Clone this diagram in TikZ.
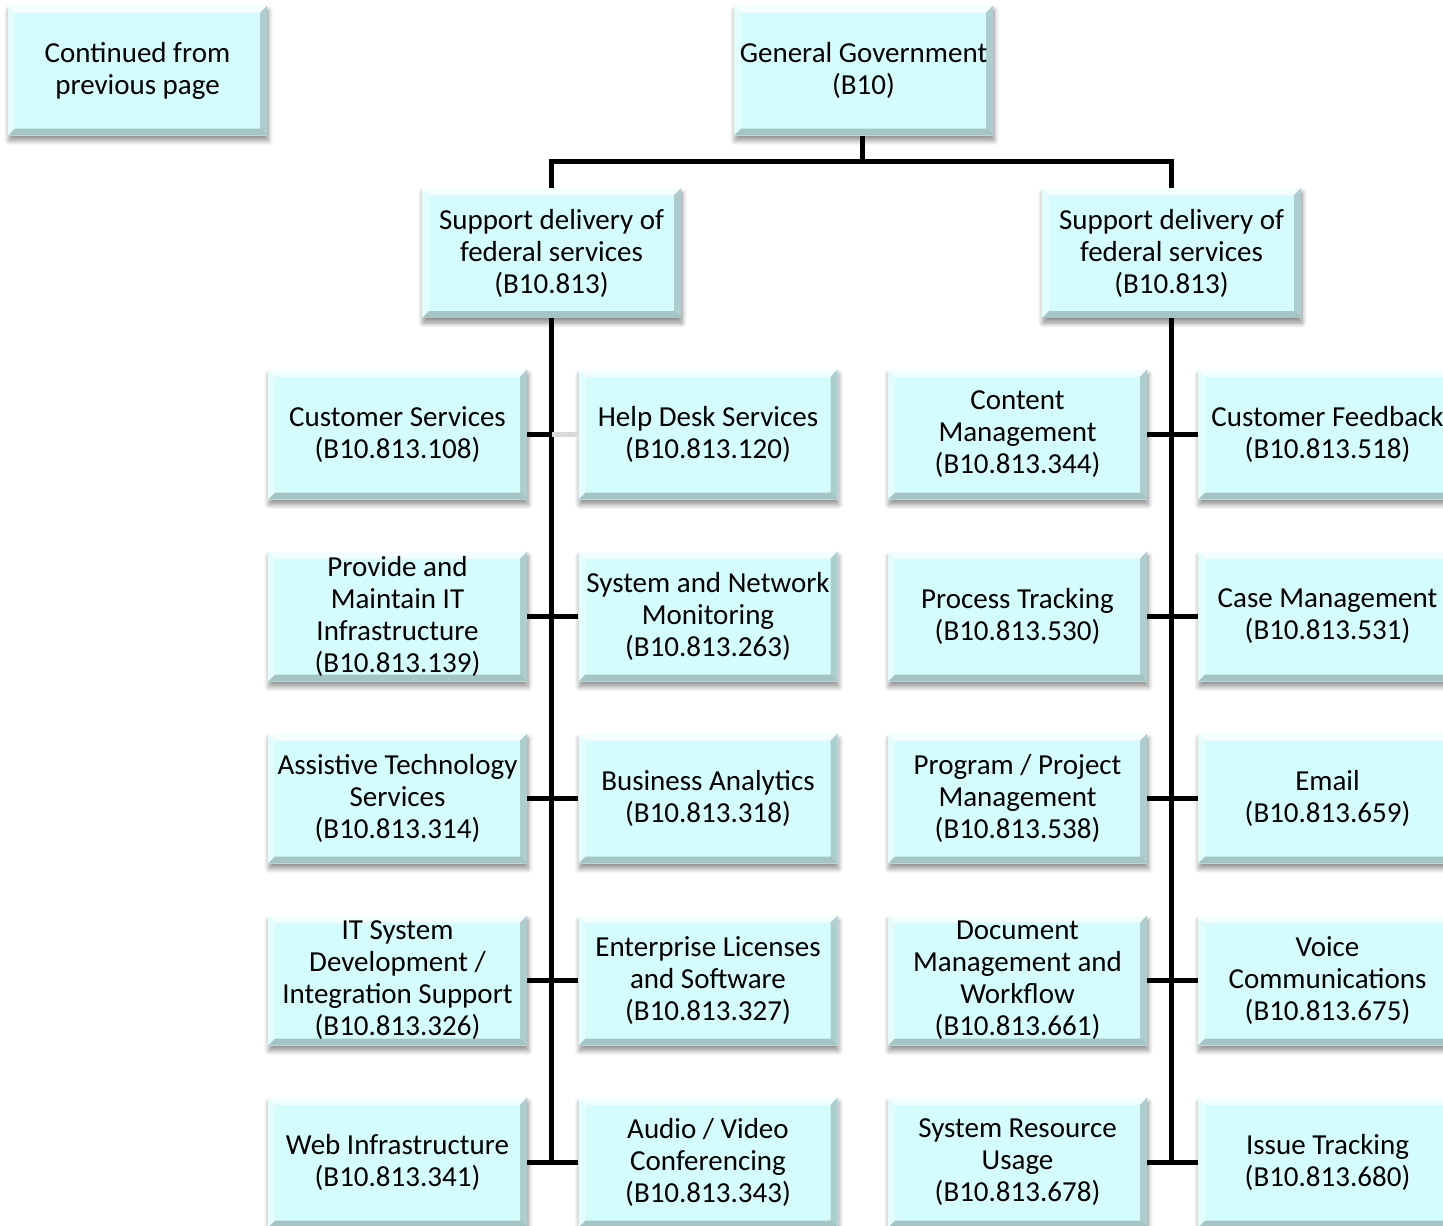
\documentclass[tikz,border=0pt]{standalone}
\usepackage{fontspec}
\setmainfont{Carlito}
\usepackage{xcolor}
\usepackage{tikz}
\usetikzlibrary{shadows,shadows.blur}

\definecolor{boxfill}{RGB}{212,252,252}

\begin{document}
\begin{tikzpicture}[x=1pt, y=-1pt,
                    font=\fontsize{29}{32}\selectfont,
                    blk/.style={rectangle, fill=boxfill, align=center,
                    minimum width=259pt, minimum height=130pt, inner sep=0pt,
                    blur shadow={shadow xshift=1pt, shadow yshift=-5pt,
                                 shadow blur radius=5pt, shadow blur steps=8,
                                 shadow opacity=45},
                    path picture={
                        \coordinate (bnw) at (path picture bounding box.north west);
                        \coordinate (bne) at (path picture bounding box.north east);
                        \coordinate (bsw) at (path picture bounding box.south west);
                        \coordinate (bse) at (path picture bounding box.south east);
                        \fill[white, opacity=0.75] (bnw) -- (bne) -- ([shift={(-7pt,-7pt)}]bne)
                            -- ([shift={(7pt,-7pt)}]bnw) -- cycle;
                        \fill[white, opacity=0.35] (bnw) -- (bsw) -- ([shift={(7pt,7pt)}]bsw)
                            -- ([shift={(7pt,-7pt)}]bnw) -- cycle;
                        \fill[black, opacity=0.18] (bne) -- (bse) -- ([shift={(-7pt,7pt)}]bse)
                            -- ([shift={(-7pt,-7pt)}]bne) -- cycle;
                        \fill[black, opacity=0.22] (bsw) -- (bse) -- ([shift={(-7pt,7pt)}]bse)
                            -- ([shift={(7pt,7pt)}]bsw) -- cycle;
                    }},
                    conn/.style={line width=5pt, black}]
    \clip (0,0) rectangle (1443,1226);
    \useasboundingbox (0,0) rectangle (1443,1226);

    \node[blk] (cont) at (137.5,70.5) {Continued from\\previous page};
    \node[blk] (gg) at (863.5,70.5) {General Government\\(B10)};
    \node[blk] (sdL) at (551.5,253) {Support delivery of\\federal services\\(B10.813)};
    \node[blk] (sdR) at (1171.5,253) {Support delivery of\\federal services\\(B10.813)};

    % left branch
    \foreach \i/\yy/\ta/\tb in {
        1/434.5/{Customer Services\\(B10.813.108)}/{Help Desk Services\\(B10.813.120)},
        2/616.5/{Provide and\\Maintain IT\\Infrastructure\\(B10.813.139)}/{System and Network\\Monitoring\\(B10.813.263)},
        3/798.5/{Assistive Technology\\Services\\(B10.813.314)}/{Business Analytics\\(B10.813.318)},
        4/980.5/{IT System\\Development /\\Integration Support\\(B10.813.326)}/{Enterprise Licenses\\and Software\\(B10.813.327)},
        5/1162.5/{Web Infrastructure\\(B10.813.341)}/{Audio / Video\\Conferencing\\(B10.813.343)}}
    {
        \node[blk] (a\i) at (397.5,\yy) {\ta};
        \node[blk] (b\i) at (708,\yy) {\tb};
    }

    % right branch
    \foreach \i/\yy/\tc/\td in {
        1/434.5/{Content\\Management\\(B10.813.344)}/{Customer Feedback\\(B10.813.518)},
        2/616.5/{Process Tracking\\(B10.813.530)}/{Case Management\\(B10.813.531)},
        3/798.5/{Program / Project\\Management\\(B10.813.538)}/{Email\\(B10.813.659)},
        4/980.5/{Document\\Management and\\Workflow\\(B10.813.661)}/{Voice\\Communications\\(B10.813.675)},
        5/1162.5/{System Resource\\Usage\\(B10.813.678)}/{Issue Tracking\\(B10.813.680)}}
    {
        \node[blk] (c\i) at (1017.5,\yy) {\tc};
        \node[blk] (d\i) at (1327.5,\yy) {\td};
    }

    % connectors
    \coordinate (bus) at (862,161);
    \draw[conn] (gg.south -| bus) -- (bus);
    \draw[conn] (sdL.north) |- (bus) -| (sdR.north);
    \draw[conn] (sdL.south) -- (sdL.south |- a5.east);
    \draw[conn] (sdR.south) -- (sdR.south |- c5.east);
    \draw[conn] (a1.east) -- (a1.east -| sdL.south);
    \draw[line width=5pt, black!15] (a1.east -| sdL.south) -- (b1.west);
    \foreach \i in {2,...,5}
        \draw[conn] (a\i.east) -- (b\i.west);
    \foreach \i in {1,...,5}
        \draw[conn] (c\i.east) -- (d\i.west);

\end{tikzpicture}
\end{document}
